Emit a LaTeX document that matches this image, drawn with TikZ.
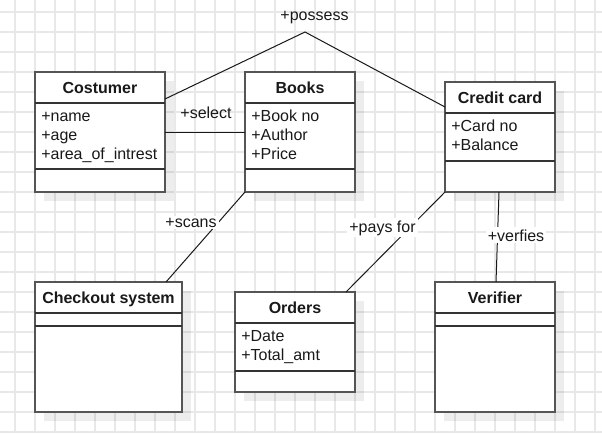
\documentclass[tikz,border=0pt]{standalone}
\usepackage{fontspec}
\setmainfont{Liberation Sans}
\usetikzlibrary{calc,shadows}
\definecolor{boxline}{RGB}{85,85,85}
\definecolor{gridc}{RGB}{232,232,232}
\begin{document}
\begin{tikzpicture}[x=0.75pt,y=-0.75pt,
  every node/.style={font=\fontsize{12}{14.4}\selectfont, text=black!90},
  wh/.style 2 args={minimum width=#1*0.75pt, minimum height=#2*0.75pt},
  classbox/.style={draw=boxline, line width=1.1pt, fill=white, inner sep=0pt, outer sep=0pt, anchor=north west,
    drop shadow={shadow xshift=6.75pt, shadow yshift=-6.75pt, fill=black, opacity=0.07}},
  title/.style={font=\fontsize{12}{14.4}\selectfont\bfseries, anchor=base, inner sep=0pt},
  attr/.style={anchor=base west, inner sep=0pt},
  divider/.style={draw=black!80, line width=0.8pt},
  conn/.style={draw=black!90, line width=0.75pt},
  lbl/.style={anchor=base, inner sep=1pt},
  lblbg/.style={anchor=base, fill=white, inner sep=1.5pt},
]
\useasboundingbox (0,0) rectangle (602,433);
\fill[white] (0,0) rectangle (602,433);
\foreach \x in {15,35,...,595} \draw[gridc, line width=0.9pt] (\x,0) -- (\x,433);
\foreach \y in {12,32,...,432} \draw[gridc, line width=0.9pt] (0,\y) -- (602,\y);

% class boxes
\node[classbox, wh={130}{120}] (cost) at (35,72) {};
\node[classbox, wh={110}{120}] (books) at (245,72) {};
\node[classbox, wh={110}{110}] (cc) at (445,82) {};
\node[classbox, wh={147}{130}] (chk) at (35,282) {};
\node[classbox, wh={120}{100}] (ord) at (235,292) {};
\node[classbox, wh={120}{130}] (ver) at (435,282) {};

% dividers
\draw[divider] ($(cost.north west)+(0,31)$) -- ($(cost.north east)+(0,31)$);
\draw[divider] ($(cost.north west)+(0,97)$) -- ($(cost.north east)+(0,97)$);
\draw[divider] ($(books.north west)+(0,31)$) -- ($(books.north east)+(0,31)$);
\draw[divider] ($(books.north west)+(0,97)$) -- ($(books.north east)+(0,97)$);
\draw[divider] ($(cc.north west)+(0,31)$) -- ($(cc.north east)+(0,31)$);
\draw[divider] ($(cc.north west)+(0,79)$) -- ($(cc.north east)+(0,79)$);
\draw[divider] ($(chk.north west)+(0,31)$) -- ($(chk.north east)+(0,31)$);
\draw[divider] ($(chk.north west)+(0,44)$) -- ($(chk.north east)+(0,44)$);
\draw[divider] ($(ord.north west)+(0,31)$) -- ($(ord.north east)+(0,31)$);
\draw[divider] ($(ord.north west)+(0,79)$) -- ($(ord.north east)+(0,79)$);
\draw[divider] ($(ver.north west)+(0,31)$) -- ($(ver.north east)+(0,31)$);
\draw[divider] ($(ver.north west)+(0,44)$) -- ($(ver.north east)+(0,44)$);

% titles
\node[title] (tcost) at ($(cost.north)+(0,21)$) {Costumer};
\node[title] (tbooks) at ($(books.north)+(0,21)$) {Books};
\node[title] (tcc) at ($(cc.north)+(0,21)$) {Credit card};
\node[title] (tchk) at ($(chk.north)+(0,21)$) {Checkout system};
\node[title] (tord) at ($(ord.north)+(0,21)$) {Orders};
\node[title] (tver) at ($(ver.north)+(0,21)$) {Verifier};

% attributes
\node[attr] (a1) at ($(cost.north west)+(6,49)$) {+name};
\node[attr] (a2) at ($(cost.north west)+(6,68)$) {+age};
\node[attr] (a3) at ($(cost.north west)+(6,87)$) {+area\_of\_intrest};
\node[attr] (b1) at ($(books.north west)+(6,49)$) {+Book no};
\node[attr] (b2) at ($(books.north west)+(6,68)$) {+Author};
\node[attr] (b3) at ($(books.north west)+(6,87)$) {+Price};
\node[attr] (c1) at ($(cc.north west)+(6,49)$) {+Card no};
\node[attr] (c2) at ($(cc.north west)+(6,68)$) {+Balance};
\node[attr] (o1) at ($(ord.north west)+(6,49)$) {+Date};
\node[attr] (o2) at ($(ord.north west)+(6,68)$) {+Total\_amt};

% connectors
\coordinate (apex) at (305,32);
\draw[conn] ($(cost.north east)+(0,27)$) -- (apex) -- ($(cc.north west)+(0,25)$);
\draw[conn] ($(cost.north east)+(0,60)$) -- ($(books.north west)+(0,60)$);
\draw[conn] (books.south west) -- ($(chk.north west)+(131,0)$);
\draw[conn] (cc.south west) -- ($(ord.north east)+(-9,0)$);
\draw[conn] ($(cc.south west)+(54,0)$) -- ($(ver.north west)+(61,0)$);

% labels
\node[lbl] (lpossess) at (314.5,20) {+possess};
\node[lbl] (lselect) at (206,118) {+select};
\node[lblbg] (lscans) at (191,227) {+scans};
\node[lblbg] (lpays) at (382.5,232) {+pays for};
\node[lblbg] (lverf) at (516,241) {+verfies};
\end{tikzpicture}
\end{document}
